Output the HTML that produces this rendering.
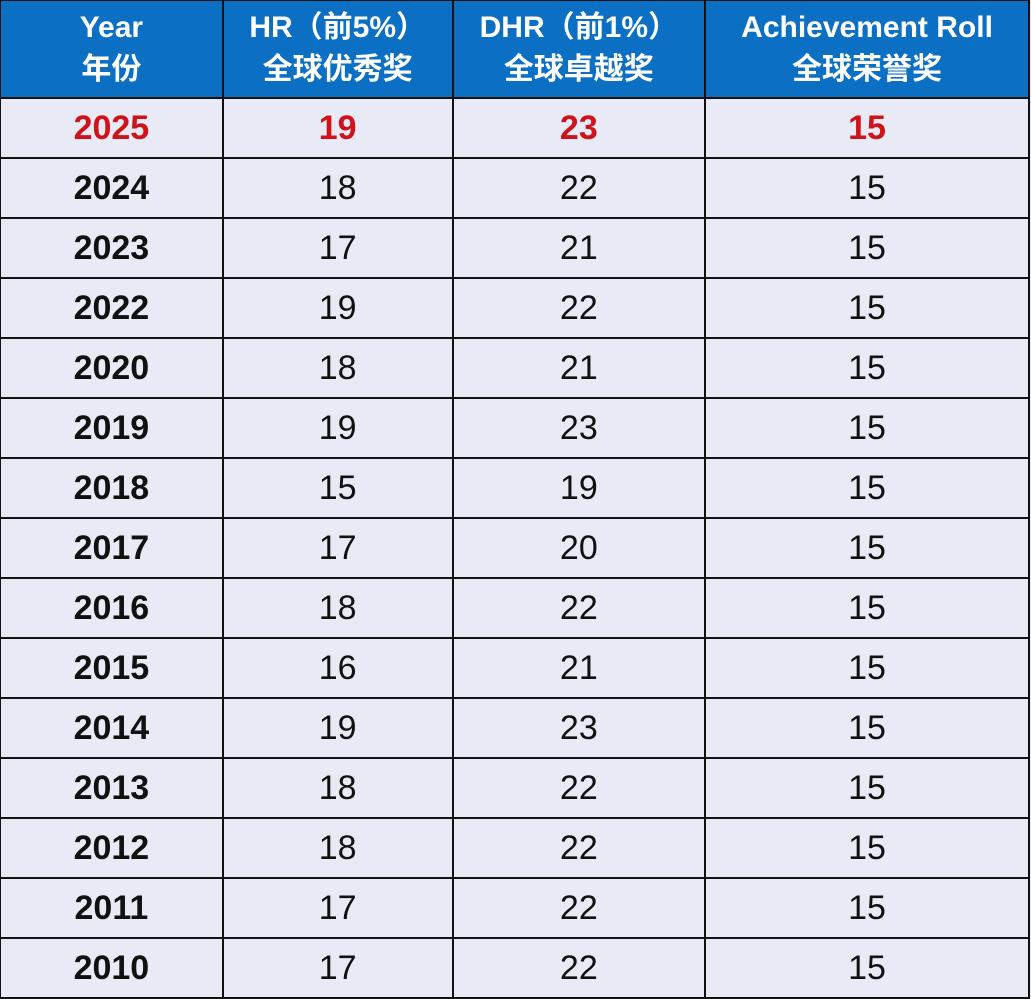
<!DOCTYPE html>
<html><head><meta charset="utf-8"><style>
body{margin:0;width:1031px;height:996px;overflow:hidden;background:#e8eaf5;}
table{border-collapse:collapse;table-layout:fixed;position:absolute;left:-1px;top:-1px;}
td,th{border:2px solid #111;text-align:center;padding:0;font-family:"Liberation Sans","Noto Sans CJK SC",sans-serif;}
th{background:#0b6fc3;color:#fff;font-size:30px;font-weight:bold;line-height:42px;height:96px;}
td{height:58px;font-size:34px;color:#111;background:#e8eaf5;}
td.y{font-weight:bold;}
tr.hl td{color:#d0121b;font-weight:bold;}
</style></head><body>
<table>
<colgroup><col style="width:224px"><col style="width:231px"><col style="width:254px"><col style="width:325px"></colgroup>
<tr>
<th>Year<br>年份</th>
<th>HR（前5%）<br>全球优秀奖</th>
<th>DHR（前1%）<br>全球卓越奖</th>
<th>Achievement Roll<br>全球荣誉奖</th>
</tr>
<tr class="hl"><td class="y">2025</td><td>19</td><td>23</td><td>15</td></tr>
<tr><td class="y">2024</td><td>18</td><td>22</td><td>15</td></tr>
<tr><td class="y">2023</td><td>17</td><td>21</td><td>15</td></tr>
<tr><td class="y">2022</td><td>19</td><td>22</td><td>15</td></tr>
<tr><td class="y">2020</td><td>18</td><td>21</td><td>15</td></tr>
<tr><td class="y">2019</td><td>19</td><td>23</td><td>15</td></tr>
<tr><td class="y">2018</td><td>15</td><td>19</td><td>15</td></tr>
<tr><td class="y">2017</td><td>17</td><td>20</td><td>15</td></tr>
<tr><td class="y">2016</td><td>18</td><td>22</td><td>15</td></tr>
<tr><td class="y">2015</td><td>16</td><td>21</td><td>15</td></tr>
<tr><td class="y">2014</td><td>19</td><td>23</td><td>15</td></tr>
<tr><td class="y">2013</td><td>18</td><td>22</td><td>15</td></tr>
<tr><td class="y">2012</td><td>18</td><td>22</td><td>15</td></tr>
<tr><td class="y">2011</td><td>17</td><td>22</td><td>15</td></tr>
<tr><td class="y">2010</td><td>17</td><td>22</td><td>15</td></tr>
</table>
</body></html>
